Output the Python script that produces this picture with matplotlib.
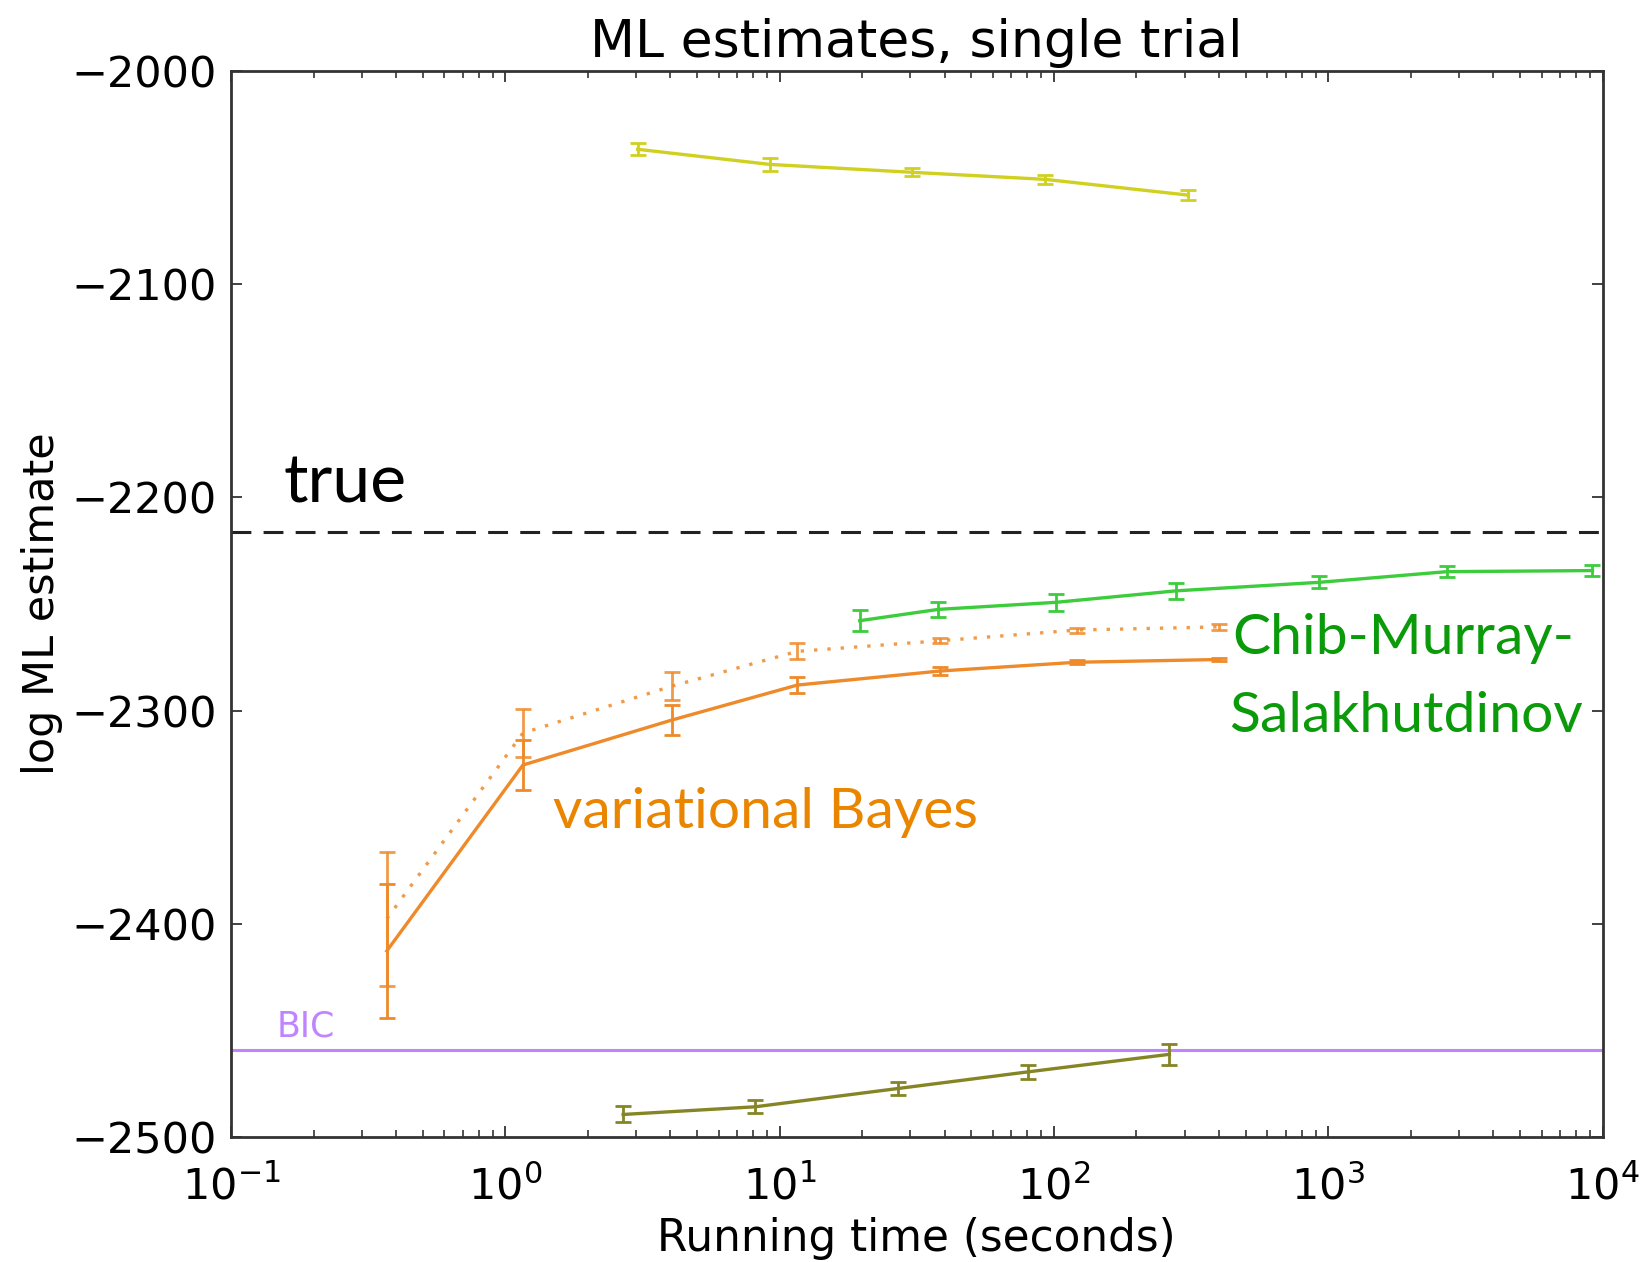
import numpy as np
import matplotlib
matplotlib.use("Agg")
import matplotlib.pyplot as plt
from matplotlib.ticker import LogLocator, NullFormatter

# data
x_top = [3.04, 9.24, 30.5, 92.9, 309]
y_top = [-2036.7, -2043.8, -2047.5, -2050.8, -2058.2]
e_top = [2.9, 3.0, 1.8, 2.0, 2.3]

x_low = [2.69, 8.15, 27.1, 80.7, 263.6]
y_low = [-2489.4, -2485.8, -2477.2, -2469.4, -2461.2]
e_low = [3.75, 3.0, 3.1, 3.3, 4.8]

x_cms = [19.6, 37.9, 101.6, 279, 929, 2710, 9190]
y_cms = [-2257.8, -2252.5, -2249.2, -2243.8, -2239.8, -2234.8, -2234.3]
e_cms = [4.8, 3.4, 3.9, 3.8, 2.9, 2.5, 2.5]

x_vb = [0.37, 1.16, 4.05, 11.6, 38.5, 121, 400]
y_vb = [-2412.7, -2325.5, -2304.4, -2288.0, -2281.4, -2277.3, -2276.0]
e_vb = [31.6, 11.9, 7.2, 3.7, 1.7, 1.0, 0.9]
y_vb2 = [-2397.6, -2310.5, -2288.5, -2272.2, -2267.2, -2262.2, -2260.7]
e_vb2 = [31.4, 11.1, 6.5, 3.75, 1.3, 1.2, 1.4]

y_true = -2216
y_bic = -2459

c_yel = '#d0d020'
c_olv = '#858526'
c_grn = '#3ccc3c'
c_org = '#ee8a2a'
c_bic = '#c084ff'

fig = plt.figure(figsize=(16.46, 12.62), dpi=100)
ax = fig.add_axes([0.1403, 0.0990, 0.8333, 0.8447])

ax.axhline(y_true, color='#222222', lw=2.2, ls=(0, (6.5, 4)))
ax.axhline(y_bic, color=c_bic, lw=2.2)

eb = dict(lw=2.4, elinewidth=2.0, capsize=6, capthick=2.0)
ax.errorbar(x_top, y_top, yerr=e_top, color=c_yel, **eb)
ax.errorbar(x_low, y_low, yerr=e_low, color=c_olv, **eb)
ax.errorbar(x_cms, y_cms, yerr=e_cms, color=c_grn, **eb)
ax.errorbar(x_vb, y_vb, yerr=e_vb, color=c_org, **eb)
l = ax.errorbar(x_vb, y_vb2, yerr=e_vb2, color=c_org, alpha=0.85, **eb)
l[0].set_linestyle((0, (1, 3)))

ax.set_xscale('log')
ax.set_xlim(0.1, 1e4)
ax.set_ylim(-2500, -2000)
ax.set_yticks(np.arange(-2500, -1999, 100))
ax.xaxis.set_minor_locator(LogLocator(base=10, subs=np.arange(2, 10), numticks=20))
ax.xaxis.set_minor_formatter(NullFormatter())

for s in ax.spines.values():
    s.set_linewidth(2.0)
    s.set_color('#333333')
ax.tick_params(which='both', direction='in', top=True, right=True,
               labelsize=31, color='#333333')
ax.tick_params(which='major', length=8, width=1.3, pad=10)
ax.tick_params(which='minor', length=5, width=1.2)
ax.tick_params(axis='x', which='major', pad=21)

ax.set_title('ML estimates, single trial', fontsize=37.5, pad=10)
ax.set_xlabel('Running time (seconds)', fontsize=31.5, labelpad=6)
ax.set_ylabel('log ML estimate', fontsize=31, labelpad=6)

ax.text(0.038, 0.595, 'true', transform=ax.transAxes, fontsize=49,
        family='Lato', color='black', va='baseline')
ax.text(0.235, 0.290, 'variational Bayes', transform=ax.transAxes,
        fontsize=41, family='Lato', color='#ea8500', va='baseline')
ax.text(0.730, 0.453, 'Chib-Murray-', transform=ax.transAxes,
        fontsize=41, family='Lato', color='#0a9a0a', va='baseline')
ax.text(0.728, 0.380, 'Salakhutdinov', transform=ax.transAxes,
        fontsize=41, family='Lato', color='#0a9a0a', va='baseline')
ax.text(0.033, 0.094, 'BIC', transform=ax.transAxes, fontsize=25,
        color=c_bic, va='baseline')

fig.savefig('out.png', dpi=100)
